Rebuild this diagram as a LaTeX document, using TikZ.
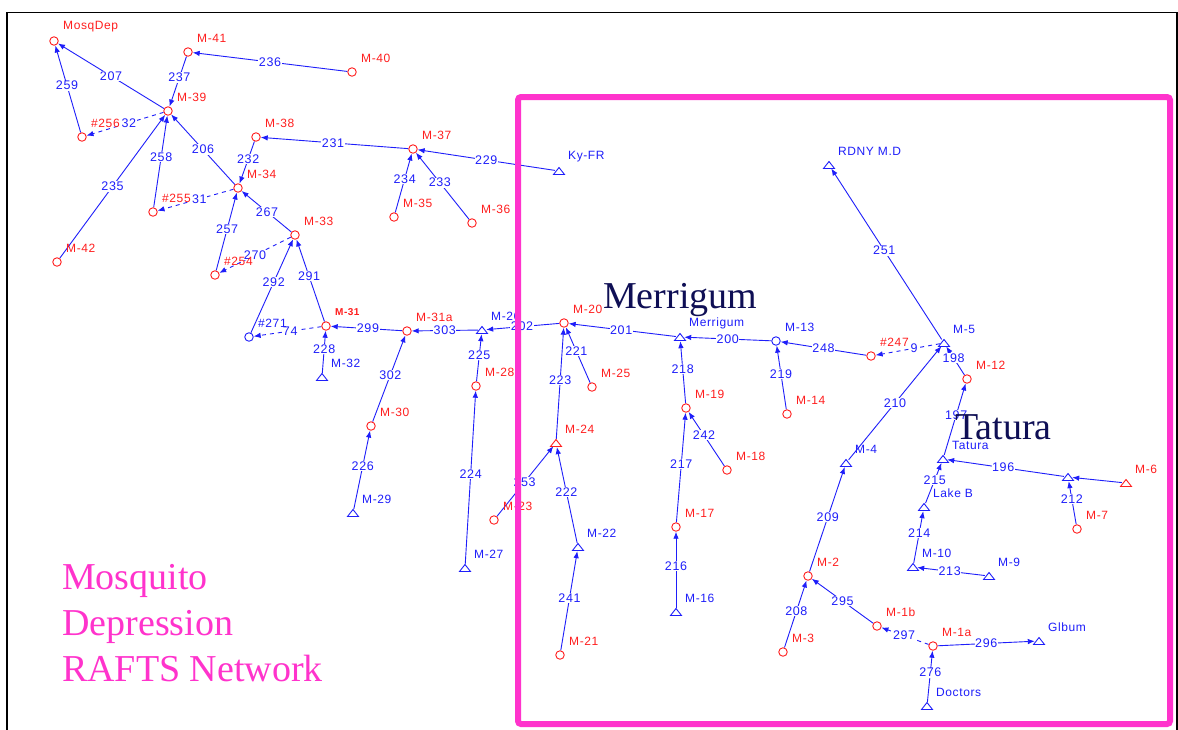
\documentclass[tikz,border=0pt]{standalone}
\usepackage{fontspec}
\usetikzlibrary{arrows.meta,calc}
\newfontfamily\labfont[LetterSpace=5]{Liberation Sans}
\newfontfamily\bigserif{Liberation Serif}
\definecolor{eblue}{RGB}{30,30,250}
\definecolor{nred}{RGB}{255,30,30}
\definecolor{mpink}{RGB}{255,51,204}
\definecolor{navy}{RGB}{15,15,85}
\pgfdeclarelayer{bg}
\pgfdeclarelayer{paper}
\pgfsetlayers{paper,bg,main}
\newcommand\CN[5]{\node[cn=#4] (#1) at (#2,#3) {};\node[nl,text=#4] (#1-l) at ($(#1)+(9,-14)$) {#5};}
\newcommand\TN[5]{\node[tn] (#1) at (#2,#3) {};\draw[#4,line width=0.9pt] ($(#1)+(-5.5,3.5)$) -- ++(11,0) -- ++(-5.5,-7) -- cycle;\node[nl,text=#4] (#1-l) at ($(#1)+(9,-14)$) {#5};}
\begin{document}
\begin{tikzpicture}[x=1pt,y=-1pt,
 cn/.style={circle,draw=#1,line width=0.9pt,minimum size=8.5pt,inner sep=0pt},
 tn/.style={circle,minimum size=8pt,inner sep=0pt},
 nl/.style={font=\labfont\fontsize{12}{12}\selectfont,anchor=west,inner sep=0pt},
 el/.style={font=\labfont\fontsize{12.5}{12.5}\selectfont,text=eblue,fill=white,inner sep=0.6pt},
 e/.style={draw=eblue,line width=0.9pt,-{Latex[length=7pt,width=5.5pt]}},
 de/.style={e,dash pattern=on 4pt off 4pt},
 bigtxt/.style={font=\bigserif\fontsize{38}{38}\selectfont,anchor=base west,inner sep=0pt}
]
\useasboundingbox (0,0) rectangle (1178,729);
\begin{pgfonlayer}{paper}
\fill[white] (0,0) rectangle (1178,729);
\draw[black,line width=1.5pt] (7,740) -- (7,12.5) -- (1177,12.5) -- (1177,740);
\end{pgfonlayer}

% nodes
\CN{mosq}{54}{41}{nred}{MosqDep}
\CN{m41}{188}{52}{nred}{M-41}
\CN{m40}{352}{72}{nred}{M-40}
\CN{m39}{168}{111}{nred}{M-39}
\CN{h256}{82}{137}{nred}{\#256}
\CN{m38}{256}{137}{nred}{M-38}
\CN{m34}{238}{188}{nred}{M-34}
\CN{h255}{153}{212}{nred}{\#255}
\CN{m33}{295}{235}{nred}{M-33}
\CN{h254}{215}{275}{nred}{\#254}
\CN{m42}{57}{262}{nred}{M-42}
\CN{m37}{413}{149}{nred}{M-37}
\CN{m35}{394}{217}{nred}{M-35}
\CN{m36}{472}{223}{nred}{M-36}
\TN{kyfr}{559}{171}{eblue}{Ky-FR}
\CN{h271}{249}{337}{eblue}{\#271}
\node[cn=nred] (m31) at (326,326) {};
\node[nl,text=nred,font=\labfont\bfseries\fontsize{10}{10}\selectfont] (m31-l) at ($(m31)+(9,-14)$) {M-31};
\TN{m32}{322}{377}{eblue}{M-32}
\CN{m31a}{407}{331}{nred}{M-31a}
\TN{m26}{482}{330}{eblue}{M-26}
\CN{m28}{476}{386}{nred}{M-28}
\CN{m30}{371}{426}{nred}{M-30}
\TN{m29}{353}{513}{eblue}{M-29}
\TN{m27}{465}{568}{eblue}{M-27}
\CN{m20}{564}{323}{nred}{M-20}
\CN{m25}{592}{387}{nred}{M-25}
\TN{m24}{556}{443}{nred}{M-24}
\CN{m23}{494}{520}{nred}{M-23}
\TN{m22}{578}{547}{eblue}{M-22}
\CN{m21}{560}{655}{nred}{M-21}
\TN{merr}{680}{337}{eblue}{Merrigum}
\CN{m19}{686}{408}{nred}{M-19}
\CN{m18}{727}{470}{nred}{M-18}
\CN{m17}{676}{527}{nred}{M-17}
\TN{m16}{676}{612}{eblue}{M-16}
\CN{m13}{776}{341}{eblue}{M-13}
\CN{m14}{787}{414}{nred}{M-14}
\CN{h247}{871}{356}{nred}{\#247}
\TN{m5}{944}{343}{eblue}{M-5}
\TN{rdny}{829}{165}{eblue}{RDNY M.D}
\CN{m12}{967}{379}{nred}{M-12}
\TN{m4}{846}{463}{eblue}{M-4}
\TN{tat}{943}{459}{eblue}{Tatura}
\TN{m6}{1126}{483}{nred}{M-6}
\node[tn] (j196) at (1068,477) {};
\draw[eblue,line width=0.9pt] ($(j196)+(-5.5,3.5)$) -- ++(11,0) -- ++(-5.5,-7) -- cycle;
\CN{m7}{1077}{529}{nred}{M-7}
\TN{lakeb}{924}{507}{eblue}{Lake B}
\TN{m10}{913}{567}{eblue}{M-10}
\TN{m9}{989}{576}{eblue}{M-9}
\CN{m2}{808}{576}{nred}{M-2}
\CN{m3}{783}{652}{nred}{M-3}
\CN{m1b}{877}{626}{nred}{M-1b}
\CN{m1a}{933}{646}{nred}{M-1a}
\TN{glbum}{1039}{641}{eblue}{Glbum}
\TN{doc}{927}{706}{eblue}{Doctors}

\begin{pgfonlayer}{bg}
\draw[e] (m39) -- node[el,pos=.5]{207} (mosq);
\draw[e] (h256) -- node[el,pos=.54]{259} (mosq);
\draw[e] (m41) -- node[el,pos=.42]{237} (m39);
\draw[e] (m40) -- node[el,pos=.5]{236} (m41);
\draw[de] (m39) -- node[el,pos=.45]{32} (h256);
\draw[e] (m42) -- node[el,pos=.5]{235} (m39);
\draw[e] (h255) -- node[el,pos=.55]{258} (m39);
\draw[e] (m34) -- node[el,pos=.5]{206} (m39);
\draw[de] (m34) -- node[el,pos=.45]{31} (h255);
\draw[e] (m38) -- node[el,pos=.42]{232} (m34);
\draw[e] (m37) -- node[el,pos=.51]{231} (m38);
\draw[e] (kyfr) -- node[el,pos=.5]{229} (m37);
\draw[e] (m35) -- node[el,pos=.57]{234} (m37);
\draw[e] (m36) -- node[el,pos=.55]{233} (m37);
\draw[e] (m33) -- node[el,pos=.49]{267} (m34);
\draw[e] (h254) -- node[el,pos=.53]{257} (m34);
\draw[de] (m33) -- node[el,pos=.5]{270} (h254);
\draw[e] (h271) -- node[el,pos=.54]{292} (m33);
\draw[e] (m31) -- node[el,pos=.55]{291} (m33);
\draw[de] (m31) -- node[el,pos=.46]{74} (h271);
\draw[e] (m32) -- node[el,pos=.57]{228} (m31);
\draw[e] (m31a) -- node[el,pos=.48]{299} (m31);
\draw[e] (m30) -- node[el,pos=.54]{302} (m31a);
\draw[e] (m29) -- node[el,pos=.55]{226} (m30);
\draw[e] (m26) -- node[el,pos=.5]{303} (m31a);
\draw[e] (m28) -- node[el,pos=.55]{225} (m26);
\draw[e] (m27) -- node[el,pos=.52]{224} (m28);
\draw[e] (m20) -- node[el,pos=.51]{202} (m26);
\draw[e] (merr) -- node[el,pos=.51]{201} (m20);
\draw[e] (m25) -- node[el,pos=.57]{221} (m20);
\draw[e] (m24) -- node[el,pos=.53]{223} (m20);
\draw[e] (m23) -- node[el,pos=.49]{253} (m24);
\draw[e] (m22) -- node[el,pos=.53]{222} (m24);
\draw[e] (m21) -- node[el,pos=.53]{241} (m22);
\draw[e] (m13) -- node[el,pos=.5]{200} (merr);
\draw[e] (m19) -- node[el,pos=.55]{218} (merr);
\draw[e] (m17) -- node[el,pos=.53]{217} (m19);
\draw[e] (m18) -- node[el,pos=.57]{242} (m19);
\draw[e] (m16) -- node[el,pos=.55]{216} (m17);
\draw[e] (m14) -- node[el,pos=.55]{219} (m13);
\draw[e] (h247) -- node[el,pos=.5]{248} (m13);
\draw[de] (m5) -- node[el,pos=.4]{9} (h247);
\draw[e] (m5) -- node[el,pos=.52]{251} (rdny);
\draw[e] (m12) -- node[el,pos=.6]{198} (m5);
\draw[e] (m4) -- node[el,pos=.5]{210} (m5);
\draw[e] (tat) -- node[el,pos=.56]{197} (m12);
\draw[e] (m2) -- node[el,pos=.52]{209} (m4);
\draw[e] (lakeb) -- node[el,pos=.58]{215} (tat);
\draw[e] (j196) -- node[el,pos=.52]{196} (tat);
\draw[e] (m6) -- (j196);
\draw[e] (m7) -- node[el,pos=.58]{212} (j196);
\draw[e] (m10) -- node[el,pos=.58]{214} (lakeb);
\draw[e] (m9) -- node[el,pos=.52]{213} (m10);
\draw[e] (m3) -- node[el,pos=.54]{208} (m2);
\draw[e] (m1b) -- node[el,pos=.5]{295} (m2);
\draw[de] (m1a) -- node[el,pos=.52]{297} (m1b);
\draw[e] (m1a) -- node[el,pos=.5]{296} (glbum);
\draw[e] (doc) -- node[el,pos=.57]{276} (m1a);
\end{pgfonlayer}

% big titles
\node[bigtxt,text=navy] (merrT) at (603,308) {Merrigum};
\node[bigtxt,text=navy] (tatT) at (955,439) {Tatura};
\node[bigtxt,text=mpink] (t1) at (62,589) {Mosquito};
\node[bigtxt,text=mpink] (t2) at (62,635) {Depression};
\node[bigtxt,text=mpink] (t3) at (62,681) {RAFTS Network};

% pink box
\draw[mpink,line width=6pt,rounded corners=3pt] (518,97) rectangle (1170,724);
\end{tikzpicture}
\end{document}
